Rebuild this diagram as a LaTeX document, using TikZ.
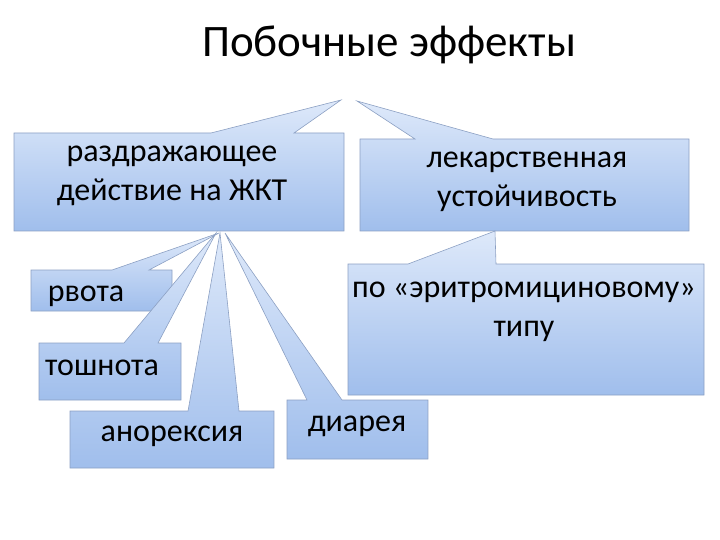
\documentclass[tikz,border=0pt]{standalone}
\usepackage{fontspec}
\setmainfont{Carlito}
\begin{document}
\begin{tikzpicture}[x=1pt,y=-1pt,
  callout/.style={top color={rgb,255:red,222;green,233;blue,250}, bottom color={rgb,255:red,160;green,190;blue,236}, draw={rgb,255:red,140;green,160;blue,195}, line width=0.6pt},
  lbl/.style={font=\fontsize{32}{39}\selectfont, align=center, text=black}]
\useasboundingbox (0,0) rectangle (720,540);
\path[callout] (14,133) -- (211,133) -- (341,100) -- (294,133) -- (344,133) -- (344,231) -- (14,231) -- cycle;
\path[callout] (360,139) -- (415,139) -- (357,101) -- (493,139) -- (689,139) -- (689,231) -- (360,231) -- cycle;
\path[callout] (348,264) -- (408,264) -- (495,231) -- (496,264) -- (704,264) -- (704,395) -- (348,395) -- cycle;
\path[callout] (31,270) -- (112,270) -- (219,233) -- (149,270) -- (172,270) -- (172,311) -- (31,311) -- cycle;
\path[callout] (39,343) -- (124,343) -- (216,233) -- (158,343) -- (181,343) -- (181,400) -- (39,400) -- cycle;
\path[callout] (70,411) -- (188,411) -- (220,233) -- (239,411) -- (274,411) -- (274,468) -- (70,468) -- cycle;
\path[callout] (287,400) -- (307,400) -- (225,233) -- (342,400) -- (428,400) -- (428,459) -- (287,459) -- cycle;
\node[font=\fontsize{45}{52}\selectfont] (title) at (389,45) {Побочные эффекты};
\node[lbl] (raz) at (172,176) {раздражающее\\действие на ЖКТ};
\node[lbl] (lek) at (527,182) {лекарственная\\устойчивость};
\node[lbl] (eri) at (524,312) {по «эритромициновому»\\типу};
\node[lbl] (rvo) at (86,296) {рвота};
\node[lbl] (tos) at (102,368) {тошнота};
\node[lbl] (ano) at (172,436) {анорексия};
\node[lbl] (dia) at (357,426) {диарея};
\end{tikzpicture}
\end{document}
